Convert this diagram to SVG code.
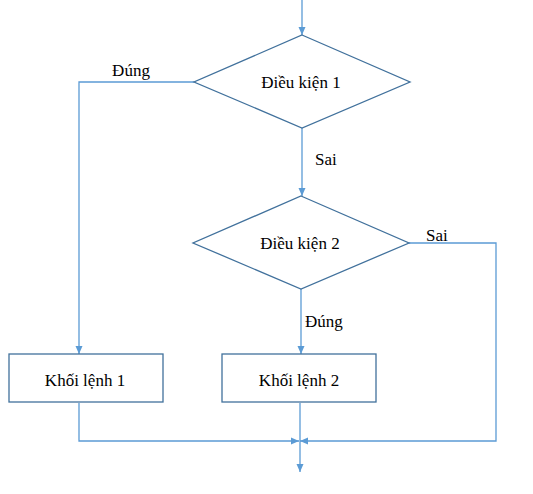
<svg xmlns="http://www.w3.org/2000/svg" width="533" height="494" viewBox="0 0 533 494">
<style>
.shape{fill:#fff;stroke:#41719c;stroke-width:1.3}
.conn{fill:none;stroke:#5b9bd5;stroke-width:1.3}
.t{font-family:'Liberation Serif','DejaVu Serif',serif;font-size:17px;fill:#000}
.c{text-anchor:middle}
</style>
<defs>
<marker id="arr" viewBox="0 0 8 8" refX="8" refY="4" markerWidth="8" markerHeight="8" markerUnits="userSpaceOnUse" orient="auto">
<path d="M0,0.5 L8,4 L0,7.5 Z" fill="#5b9bd5"/>
</marker>
</defs>
<rect width="533" height="494" fill="#fff"/>
<g id="connectors">
<path class="conn" d="M302,0 V35" marker-end="url(#arr)"/>
<path class="conn" d="M302,128 V196" marker-end="url(#arr)"/>
<path class="conn" d="M194,82 H79 V354" marker-end="url(#arr)"/>
<path class="conn" d="M301,289 V354" marker-end="url(#arr)"/>
<path class="conn" d="M409,243 H496 V441 H300" marker-end="url(#arr)"/>
<path class="conn" d="M79,403 V441 H299" marker-end="url(#arr)"/>
<path class="conn" d="M300,403 V472" marker-end="url(#arr)"/>
<text x="131" y="76" class="t c">Đúng</text>
<text x="315" y="165" class="t">Sai</text>
<text x="426" y="241" class="t">Sai</text>
<text x="305" y="327" class="t">Đúng</text>
</g>
<g id="dk1">
<polygon class="shape" points="302,35 410,82 302,128 194,82"/>
<text x="301" y="88" class="t c">Điều kiện 1</text>
</g>
<g id="dk2">
<polygon class="shape" points="301,196 409,243 301,289 193,243"/>
<text x="300" y="249" class="t c">Điều kiện 2</text>
</g>
<g id="kl1">
<rect class="shape" x="9" y="354" width="154" height="48"/>
<text x="85" y="386" class="t c">Khối lệnh 1</text>
</g>
<g id="kl2">
<rect class="shape" x="222" y="354" width="154" height="48"/>
<text x="299" y="386" class="t c">Khối lệnh 2</text>
</g>
</svg>
